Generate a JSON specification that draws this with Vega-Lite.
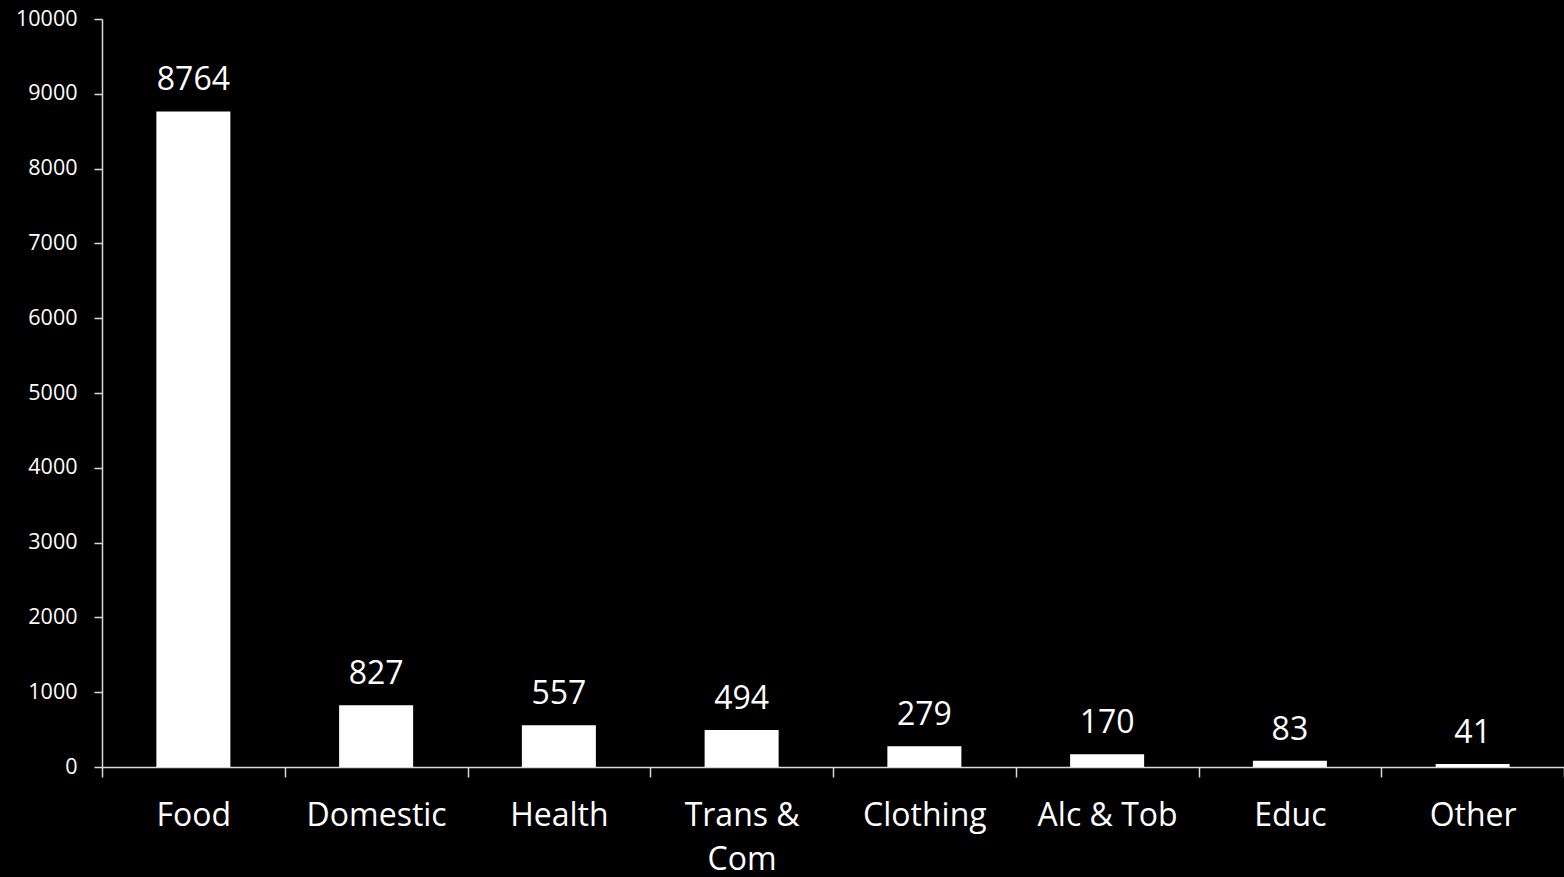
{
  "$schema": "https://vega.github.io/schema/vega-lite/v6.json",
  "autosize": {"type": "none"},
  "padding": {"left": 102, "top": 19, "right": 0, "bottom": 110},
  "width": 1462,
  "height": 748,
  "background": "#000000",
  "config": {
    "view": {"stroke": null},
    "font": "Open Sans",
    "axis": {
      "domainColor": "#d9d9d9",
      "domainWidth": 1.5,
      "tickColor": "#d9d9d9",
      "tickWidth": 1.5,
      "labelColor": "#ffffff",
      "labelFont": "Open Sans",
      "grid": false,
      "title": null
    }
  },
  "data": {
    "values": [
      {"category": "Food", "value": 8764},
      {"category": "Domestic", "value": 827},
      {"category": "Health", "value": 557},
      {"category": "Trans & Com", "value": 494},
      {"category": "Clothing", "value": 279},
      {"category": "Alc & Tob", "value": 170},
      {"category": "Educ", "value": 83},
      {"category": "Other", "value": 41}
    ]
  },
  "encoding": {
    "x": {
      "field": "category",
      "type": "nominal",
      "sort": null,
      "scale": {"paddingInner": 0, "paddingOuter": 0},
      "axis": {
        "labelAngle": 0,
        "labelFontSize": 32,
        "labelPadding": 23,
        "labelLineHeight": 44,
        "tickBand": "extent",
        "tickSize": 10,
        "labelExpr": "datum.label == 'Trans & Com' ? ['Trans &', 'Com'] : datum.label"
      }
    },
    "y": {
      "field": "value",
      "type": "quantitative",
      "scale": {"domain": [0, 10000], "nice": false},
      "axis": {
        "values": [0, 1000, 2000, 3000, 4000, 5000, 6000, 7000, 8000, 9000, 10000],
        "format": "d",
        "labelFontSize": 21.5,
        "labelPadding": 17,
        "tickSize": 8
      }
    }
  },
  "layer": [
    {
      "mark": {"type": "bar", "color": "#ffffff", "width": {"band": 0.405}}
    },
    {
      "mark": {
        "type": "text",
        "color": "#ffffff",
        "font": "Open Sans",
        "fontSize": 32,
        "baseline": "alphabetic",
        "dy": -21
      },
      "encoding": {"text": {"field": "value", "type": "quantitative", "format": "d"}}
    }
  ]
}
